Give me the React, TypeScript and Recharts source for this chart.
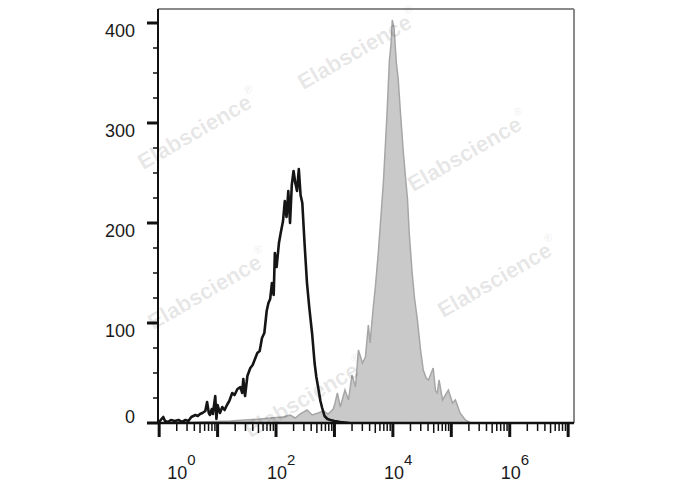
import React from "react";
import {
  ComposedChart,
  Area,
  Line,
  XAxis,
  YAxis,
  ReferenceLine,
} from "recharts";

// x positions are in decades (log10 of fluorescence intensity)
const isotypeDecade = [
  0.0, 0.04, 0.07, 0.1, 0.15, 0.2, 0.27, 0.33, 0.39, 0.45, 0.5, 0.55, 0.62, 0.66,
  0.7, 0.74, 0.79, 0.82, 0.85, 0.87, 0.9, 0.92, 0.96, 0.98, 1.0, 1.04, 1.08, 1.12,
  1.16, 1.2, 1.25, 1.29, 1.34, 1.39, 1.42, 1.44, 1.47, 1.51, 1.56, 1.6, 1.64, 1.68,
  1.72, 1.76, 1.8, 1.84, 1.87, 1.9, 1.93, 1.96, 1.98, 2.01, 2.05, 2.08, 2.12, 2.15,
  2.18, 2.21, 2.24, 2.27, 2.3, 2.33, 2.36, 2.39, 2.42, 2.45, 2.49, 2.53, 2.57, 2.62,
  2.66, 2.69, 2.72, 2.76, 2.79, 2.83, 2.88, 2.93, 3.0, 3.1, 3.25,
];
const isotypeCount = [
  1, 4, 6, 2, 1, 3, 2, 3, 1, 3, 2, 6, 8, 7,
  9, 10, 12, 21, 10, 8, 14, 9, 27, 4, 18, 10, 16, 13,
  18, 22, 30, 28, 34, 36, 30, 44, 27, 47, 55, 58, 64, 70,
  72, 85, 90, 112, 120, 124, 140, 128, 170, 156, 180, 190, 202, 222,
  206, 232, 200, 238, 252, 240, 232, 254, 228, 220, 178, 140, 115, 88,
  60, 46, 36, 22, 15, 7, 4, 3, 2, 1, 0,
];

const stainedDecade = [
  0.27, 0.7, 1.22, 1.47, 1.73, 1.9, 2.12, 2.24, 2.33, 2.41, 2.53, 2.62, 2.72, 2.81,
  2.89, 2.98, 3.01, 3.05, 3.1, 3.18, 3.24, 3.3, 3.36, 3.41, 3.48, 3.53, 3.58, 3.61,
  3.66, 3.7, 3.75, 3.8, 3.84, 3.87, 3.9, 3.94, 3.97, 3.99, 4.02, 4.06, 4.09, 4.13,
  4.18, 4.21, 4.25, 4.28, 4.33, 4.37, 4.42, 4.47, 4.52, 4.57, 4.61, 4.69, 4.73, 4.76,
  4.79, 4.85, 4.9, 4.95, 5.02, 5.07, 5.15, 5.24, 5.33,
];
const stainedCount = [
  0, 1, 2, 3, 4, 5, 6, 8, 5, 9, 13, 8, 10, 12,
  9, 14, 20, 30, 16, 33, 23, 48, 36, 73, 60, 66, 98, 80,
  113, 136, 170, 210, 243, 276, 310, 362, 380, 403, 395, 360, 345, 310,
  270, 250, 224, 190, 150, 125, 103, 75, 53, 45, 43, 55, 32, 30,
  43, 23, 28, 33, 20, 23, 10, 3, 0,
];

const xDecades = [0, 1, 2, 3, 4, 5, 6, 7];
const xLabelDecades = [0, 2, 4, 6];
const yMajor = [0, 100, 200, 300, 400];
const yMinorStep = 25;

const watermarks = [
  { x: 358, y: 50 },
  { x: 198, y: 130 },
  { x: 468, y: 152 },
  { x: 208, y: 290 },
  { x: 498, y: 278 },
  { x: 305, y: 398 },
];

const isotypeData = isotypeDecade.map((x, i) => ({ x, count: isotypeCount[i] }));
const stainedData = stainedDecade.map((x, i) => ({ x, count: stainedCount[i] }));

const xTicks: number[] = [];
xDecades.forEach((d) => {
  xTicks.push(d);
  if (d < 7) for (let k = 2; k <= 9; k++) xTicks.push(d + Math.log10(k));
});
const yTicks: number[] = [];
for (let v = 0; v <= 400; v += yMinorStep) yTicks.push(v);

const FONT = "'Liberation Sans', Arial, sans-serif";

function XTick(props: any) {
  const { x, y, payload } = props;
  const v: number = payload.value;
  const isMajor = Math.abs(v - Math.round(v)) < 1e-6;
  const frac = v - Math.floor(v);
  const isFive = Math.abs(frac - Math.log10(5)) < 1e-6;
  const len = isMajor ? 14 : isFive ? 10 : 8;
  const d = Math.round(v);
  const showLabel = isMajor && xLabelDecades.includes(d);
  const lx = d === 0 ? x + 8 : x - 9;
  return (
    <g>
      <line
        x1={x}
        x2={x}
        y1={y}
        y2={y + len}
        stroke="#111"
        strokeWidth={isMajor ? 3 : 1.5}
      />
      {showLabel && (
        <text x={lx} y={y + 56} fontFamily={FONT} fontSize={18} fill="#1a1a1a">
          <tspan>10</tspan>
          <tspan dy={-14} fontSize={15}>
            {d}
          </tspan>
        </text>
      )}
    </g>
  );
}

function YTick(props: any) {
  const { x, y, payload } = props;
  const v: number = payload.value;
  const isMajor = yMajor.includes(v);
  return (
    <g>
      <line
        x1={x}
        x2={x - (isMajor ? 11 : 5)}
        y1={y}
        y2={y}
        stroke="#111"
        strokeWidth={isMajor ? 3 : 1.5}
      />
      {isMajor && (
        <text
          x={135}
          y={v === 0 ? y - 6 : y + 8}
          textAnchor="end"
          dominantBaseline="central"
          fontFamily={FONT}
          fontSize={18}
          fill="#1a1a1a"
        >
          {v}
        </text>
      )}
    </g>
  );
}

export default function App() {
  return (
    <div
      style={{
        position: "absolute",
        left: 0,
        top: 0,
        width: 688,
        height: 490,
        background: "#fff",
      }}
    >
      <ComposedChart
        width={688}
        height={490}
        margin={{ top: 9, right: 114, bottom: 7, left: 98 }}
      >
        <XAxis
          type="number"
          dataKey="x"
          domain={[-0.02, 7.1]}
          allowDataOverflow
          ticks={xTicks}
          interval={0}
          tick={<XTick />}
          tickLine={false}
          tickSize={0}
          tickMargin={0}
          height={60}
          axisLine={{ stroke: "#111", strokeWidth: 2.5 }}
        />
        <YAxis
          type="number"
          domain={[0, 414]}
          allowDataOverflow
          ticks={yTicks}
          interval={0}
          tick={<YTick />}
          tickLine={false}
          tickSize={0}
          tickMargin={0}
          width={60}
          axisLine={{ stroke: "#111", strokeWidth: 2 }}
        />
        <ReferenceLine y={414} stroke="#8a8a8a" strokeWidth={2} />
        <ReferenceLine x={7.1} stroke="#8a8a8a" strokeWidth={2} />
        <Area
          data={stainedData}
          dataKey="count"
          type="linear"
          stroke="#a6a6a6"
          strokeWidth={1.5}
          fill="#c9c9c9"
          fillOpacity={1}
          isAnimationActive={false}
        />
        <Line
          data={isotypeData}
          dataKey="count"
          type="linear"
          stroke="#151515"
          strokeWidth={2.6}
          strokeLinejoin="round"
          dot={false}
          isAnimationActive={false}
        />
      </ComposedChart>
      <svg
        width={688}
        height={490}
        style={{ position: "absolute", left: 0, top: 0, pointerEvents: "none" }}
      >
        {watermarks.map((w, i) => (
          <text
            key={i}
            x={w.x}
            y={w.y}
            textAnchor="middle"
            dominantBaseline="central"
            transform={`rotate(-30 ${w.x} ${w.y})`}
            fontFamily={FONT}
            fontWeight="bold"
            fontSize={22}
            fill="#000"
            fillOpacity={0.11}
          >
            Elabscience
            <tspan dy={-10} fontSize={11} fontWeight="normal">
              ®
            </tspan>
          </text>
        ))}
      </svg>
    </div>
  );
}
